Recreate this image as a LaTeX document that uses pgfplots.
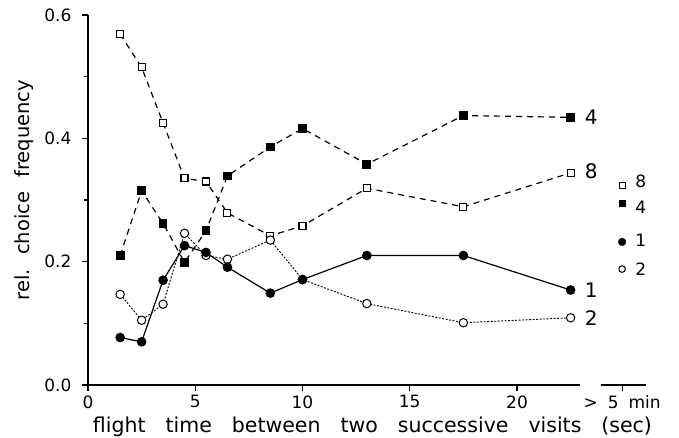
\documentclass[border=0pt]{standalone}
\usepackage{pgfplots}
\pgfplotsset{compat=1.18}
\usetikzlibrary{calc}
\usepackage{fontspec}
\setmainfont{DejaVu Sans}
\newcommand{\wsp}{\hspace{20pt}}
\newcommand{\ysp}{\hspace{14pt}}
\begin{document}
\begin{tikzpicture}[x=1pt,y=1pt]
\useasboundingbox (-88,-53) rectangle (591,385);
\begin{axis}[
  at={(0,0)}, anchor=south west,
  scale only axis, width=557.7pt, height=370pt,
  xmin=0, xmax=26, ymin=0, ymax=0.6,
  axis y line=left, axis x line=bottom,
  axis line style={-},
  x axis line style={draw=none},
  y axis line style={-, line width=1.3pt},
  xtick={0,5,10,15,20,24.9},
  xticklabels={0,5,10,15,20,{>\hspace{10pt}5\hspace{10pt}min}},
  ytick={0,0.2,0.4,0.6}, minor ytick={0.1,0.3,0.5},
  yticklabels={0.0,0.2,0.4,0.6},
  tick align=outside,
  major tick length=6pt, minor tick length=4pt,
  tick style={line width=1.2pt, black},
  ticklabel style={font=\fontsize{17}{20}\selectfont},
  yticklabel style={xshift=-7pt},
  xticklabel style={yshift=-1pt},
  xlabel={flight\wsp time\wsp between\wsp two\wsp successive\wsp visits\wsp (sec)},
  ylabel={rel.\ysp choice\ysp frequency},
  xlabel style={font=\fontsize{20.5}{24}\selectfont, at={(axis description cs:0.5,0)}, anchor=base, yshift=-47pt, xshift=5.6pt},
  ylabel style={font=\fontsize{19.5}{23}\selectfont, at={(axis description cs:-0.104,0.527)}, anchor=base},
  clip=false,
]
\draw[line width=1.3pt] (axis cs:0,0) -- (axis cs:22.95,0);
\draw[line width=1.3pt] (axis cs:23.9,0) -- (axis cs:26,0);
% series 8
\addplot[black, line width=1.2pt, dash pattern=on 6pt off 5pt, mark=square*, mark size=3.5pt,
  mark options={solid, fill=white, line width=1.1pt}] coordinates {
(1.5,0.569) (2.5,0.515) (3.5,0.425) (4.5,0.335) (5.5,0.330) (6.5,0.279)
(8.5,0.242) (10,0.258) (13,0.319) (17.5,0.289) (22.5,0.344)};
% series 4
\addplot[black, line width=1.2pt, dash pattern=on 6pt off 5pt, mark=square*, mark size=3.8pt,
  mark options={solid, fill=black}] coordinates {
(1.5,0.210) (2.5,0.315) (3.5,0.262) (4.5,0.199) (5.5,0.250) (6.5,0.339)
(8.5,0.386) (10,0.416) (13,0.358) (17.5,0.437) (22.5,0.434)};
% series 2
\addplot[black, line width=0.9pt, dash pattern=on 2pt off 1.5pt, mark=*, mark size=4.2pt,
  mark options={solid, fill=white, line width=1.0pt}] coordinates {
(1.5,0.147) (2.5,0.105) (3.5,0.131) (4.5,0.246) (5.5,0.210) (6.5,0.204)
(8.5,0.235) (10,0.171) (13,0.132) (17.5,0.101) (22.5,0.109)};
% series 1
\addplot[black, line width=1.2pt, mark=*, mark size=4.2pt,
  mark options={solid, fill=black}] coordinates {
(1.5,0.077) (2.5,0.070) (3.5,0.170) (4.5,0.226) (5.5,0.215) (6.5,0.191)
(8.5,0.149) (10,0.171) (13,0.210) (17.5,0.210) (22.5,0.154)};
% > 5 min points
\addplot[only marks, black, mark=square*, mark size=3pt, mark options={fill=white, line width=1.1pt}] coordinates {(24.9,0.324)};
\addplot[only marks, black, mark=square*, mark size=3.3pt, mark options={fill=black}] coordinates {(24.9,0.295)};
\addplot[only marks, black, mark=*, mark size=3.8pt, mark options={fill=black}] coordinates {(24.9,0.232)};
\addplot[only marks, black, mark=*, mark size=3.3pt, mark options={fill=white, line width=1.0pt}] coordinates {(24.9,0.188)};
% end labels
\begin{scope}[every node/.style={font=\fontsize{20}{24}\selectfont, anchor=west, inner sep=0pt}]
\node at ($(axis cs:22.5,0.434)+(14pt,0)$) {4};
\node at ($(axis cs:22.5,0.347)+(14pt,0)$) {8};
\node at ($(axis cs:22.5,0.154)+(14pt,0)$) {1};
\node at ($(axis cs:22.5,0.109)+(14pt,0)$) {2};
\end{scope}
\begin{scope}[every node/.style={font=\fontsize{17}{20}\selectfont, anchor=west, inner sep=0pt}]
\node at ($(axis cs:24.9,0.331)+(13pt,0)$) {8};
\node at ($(axis cs:24.9,0.288)+(13pt,0)$) {4};
\node at ($(axis cs:24.9,0.234)+(13pt,0)$) {1};
\node at ($(axis cs:24.9,0.188)+(13pt,0)$) {2};
\end{scope}
\end{axis}
\end{tikzpicture}
\end{document}
